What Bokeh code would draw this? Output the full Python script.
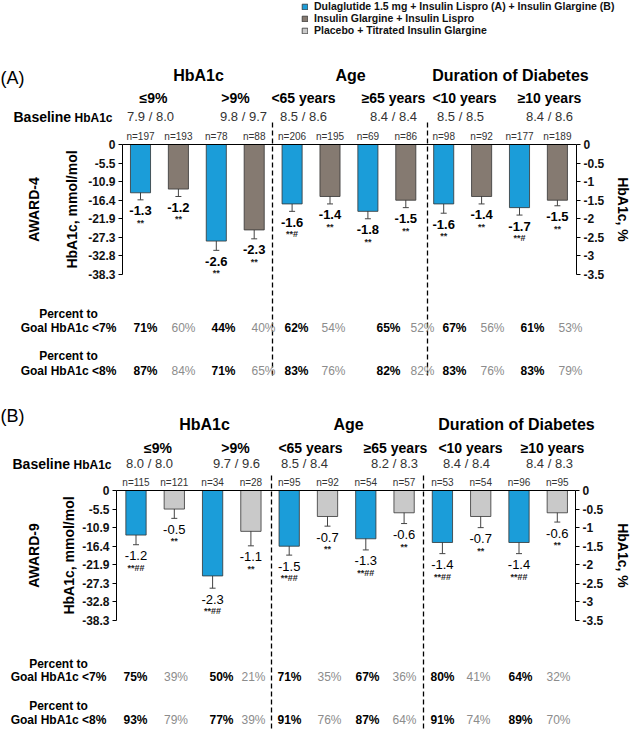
import math
from bokeh.plotting import figure
from bokeh.models import (Range1d, LinearAxis, FixedTicker, ColumnDataSource, Whisker,
                          TeeHead, Legend, LegendItem)
from bokeh.layouts import column
from bokeh.core.properties import value
from bokeh.embed import file_html
from bokeh.resources import INLINE

# ---------------- data ----------------
group_titles = ["HbA1c", "Age", "Duration of Diabetes"]
subgroups = ["≤9%", ">9%", "<65 years", "≥65 years", "<10 years", "≥10 years"]
legend_labels = ["Dulaglutide 1.5 mg + Insulin Lispro (A) + Insulin Glargine (B)",
                 "Insulin Glargine + Insulin Lispro",
                 "Placebo + Titrated Insulin Glargine"]
pct_ticks = [0, -0.5, -1, -1.5, -2, -2.5, -3, -3.5]
pct_tick_labels = ["0", "-0.5", "-1", "-1.5", "-2", "-2.5", "-3", "-3.5"]
mmol_tick_labels = ["0", "-5.5", "-10.9", "-16.4", "-21.9", "-27.3", "-32.8", "-38.3"]

# AWARD-4 (panel A): bars alternate dulaglutide / insulin glargine + lispro
a_change = [-1.3, -1.2, -2.6, -2.3, -1.6, -1.4, -1.8, -1.5, -1.6, -1.4, -1.7, -1.5]
a_se = [0.19, 0.2, 0.25, 0.24, 0.2, 0.2, 0.2, 0.2, 0.25, 0.2, 0.2, 0.15]
a_n = [197, 193, 78, 88, 206, 195, 69, 86, 98, 92, 177, 189]
a_sig = ["**", "**", "**", "**", "**#", "**", "**", "**", "**", "**", "**#", "**"]
a_baseline = ["7.9 / 8.0", "9.8 / 9.7", "8.5 / 8.6", "8.4 / 8.4", "8.5 / 8.5", "8.4 / 8.6"]
a_goal7 = [71, 60, 44, 40, 62, 54, 65, 52, 67, 56, 61, 53]
a_goal8 = [87, 84, 71, 65, 83, 76, 82, 82, 83, 76, 83, 79]

# AWARD-9 (panel B): bars alternate dulaglutide / placebo
b_change = [-1.2, -0.5, -2.3, -1.1, -1.5, -0.7, -1.3, -0.6, -1.4, -0.7, -1.4, -0.6]
b_se = [0.26, 0.25, 0.33, 0.39, 0.24, 0.26, 0.3, 0.29, 0.3, 0.3, 0.3, 0.25]
b_n = [115, 121, 34, 28, 95, 92, 54, 57, 53, 54, 96, 95]
b_sig = ["**##", "**", "**##", "**", "**##", "**", "**##", "**", "**##", "**", "**##", "**"]
b_baseline = ["8.0 / 8.0", "9.7 / 9.6", "8.5 / 8.4", "8.2 / 8.3", "8.4 / 8.4", "8.4 / 8.3"]
b_goal7 = [75, 39, 50, 21, 71, 35, 67, 36, 80, 41, 64, 32]
b_goal8 = [93, 79, 77, 39, 91, 76, 87, 64, 91, 74, 89, 70]

# ---------------- style / layout ----------------
FONT = value("Liberation Sans")
BLUE = "#1b9dd9"
BROWN = "#857a71"
LGRAY = "#c9c9c9"
EDGE = "#333333"
W = 630

LAYOUT_A = dict(tag="(A)", study="AWARD-4", top=0, bottom=392, bar0=140, dx=37.9, zero=144,
                ppu=37.14, axl=122, axr=576, tag_y=77, title_y=75, title_x=[198, 350, 510],
                sub_y=97, sub_x=[153, 235, 303, 393, 464, 549], base_y=116,
                base_x=[150, 243, 303, 393, 460, 549], base_lx=(13, 74),
                dash_x=[272, 427], dash_y=(122, 376), ylab_x=71, study_x=33, ylab_r=622,
                goal_lx=68, goal_rows=[(313, 327), (355, 370)],
                goal_x=[145, 183, 223, 263, 296, 333, 388, 422, 454, 492, 532, 570])
LAYOUT_B = dict(tag="(B)", study="AWARD-9", top=392, bottom=729, bar0=135.5, dx=38.3, zero=490,
                ppu=37.14, axl=116, axr=575, tag_y=415, title_y=424, title_x=[204, 348, 516],
                sub_y=447, sub_x=[157.5, 235, 310, 395, 470, 552], base_y=463,
                base_x=[149, 236, 304, 394, 466, 549], base_lx=(12, 73),
                dash_x=[271, 423], dash_y=(475, 729), ylab_x=68, study_x=33, ylab_r=622,
                goal_lx=58, goal_rows=[(663, 676), (705, 719)],
                goal_x=[135, 175.5, 221, 253, 289, 329, 367, 404, 442, 478, 520, 558])


def txt(p, x, y, text, size, color="black", style="normal", align="center",
        baseline="middle", angle=0.0):
    p.text(x=x, y=y, text=text, x_range_name="px", y_range_name="px",
           text_font=FONT, text_font_size=size, text_color=color, text_font_style=style,
           text_align=align, text_baseline=baseline, angle=angle)


def make_panel(L, change, se, n, sig, baseline, goal7, goal8, comp_color,
               value_style, with_legend=False):
    top, bottom = L["top"], L["bottom"]
    H = bottom - top
    p = figure(width=W, height=H, output_backend="svg", toolbar_location=None,
               x_range=Range1d((0 - L["bar0"]) / L["dx"], (W - L["bar0"]) / L["dx"]),
               y_range=Range1d(-(bottom - L["zero"]) / L["ppu"], (L["zero"] - top) / L["ppu"]),
               x_axis_type=None, y_axis_type=None, min_border=0, outline_line_color=None)
    p.extra_x_ranges = {"px": Range1d(0, W)}
    p.extra_y_ranges = {"px": Range1d(bottom, top)}

    xl = (L["axl"] - L["bar0"]) / L["dx"]
    xr = (L["axr"] - L["bar0"]) / L["dx"]

    idx = list(range(len(change)))
    d_idx, c_idx = idx[0::2], idx[1::2]
    r_d = p.vbar(x=d_idx, width=0.53, top=0, bottom=[change[i] for i in d_idx],
                 fill_color=BLUE, line_color=EDGE, line_width=0.8)
    r_c = p.vbar(x=c_idx, width=0.53, top=0, bottom=[change[i] for i in c_idx],
                 fill_color=comp_color, line_color=EDGE, line_width=0.8)

    lower = [c - s for c, s in zip(change, se)]
    upper = [min(c + s, 0) for c, s in zip(change, se)]
    err_src = ColumnDataSource(dict(x=idx, lower=lower, upper=upper))
    p.add_layout(Whisker(source=err_src, base="x", lower="lower", upper="upper",
                         line_color="#444444", line_width=1,
                         upper_head=TeeHead(size=6, line_color="#444444", line_width=1),
                         lower_head=TeeHead(size=6, line_color="#444444", line_width=1)))

    # value labels and significance markers
    p.text(x=idx, y=lower, text=[f"{v:.1f}" for v in change], y_offset=11,
           text_font=FONT, text_font_size="13px", text_font_style=value_style,
           text_align="center", text_baseline="middle", text_color="black")
    p.text(x=idx, y=lower, text=sig, y_offset=23,
           text_font=FONT, text_font_size="9px", text_font_style="bold",
           text_align="center", text_baseline="middle", text_color="#222222")
    # n labels
    p.text(x=idx, y=[0] * len(idx), text=[f"n={v}" for v in n], y_offset=-3,
           text_font=FONT, text_font_size="10px", text_align="center",
           text_baseline="bottom", text_color="#333333")

    # axes
    def style_axis(ax):
        ax.axis_line_color = "black"
        ax.axis_line_width = 1
        ax.major_tick_line_color = "black"
        ax.major_tick_out = 4
        ax.major_tick_in = 0
        ax.minor_tick_line_color = None
        ax.major_label_text_font = "Liberation Sans"
        ax.major_label_text_font_size = "12px"
        ax.major_label_text_font_style = "bold"
        ax.major_label_text_color = "#111111"
        ax.major_label_standoff = 3

    left = LinearAxis(fixed_location=xl, bounds=(-3.5, 0), ticker=FixedTicker(ticks=pct_ticks),
                      major_label_overrides=dict(zip(pct_ticks, mmol_tick_labels)))
    right = LinearAxis(fixed_location=xr, bounds=(-3.5, 0), ticker=FixedTicker(ticks=pct_ticks),
                       major_label_overrides=dict(zip(pct_ticks, pct_tick_labels)))
    style_axis(left)
    style_axis(right)
    p.add_layout(left, "left")
    p.add_layout(right, "right")
    zero_axis = LinearAxis(fixed_location=0, bounds=(xl, xr), ticker=FixedTicker(ticks=[]),
                           axis_line_color="black", axis_line_width=1,
                           major_label_text_font_size="0px")
    p.add_layout(zero_axis, "below")

    # dashed group separators
    p.segment(x0=L["dash_x"], x1=L["dash_x"], y0=L["dash_y"][0], y1=L["dash_y"][1],
              x_range_name="px", y_range_name="px", line_color="black",
              line_width=1.3, line_dash="5 3")

    # headings
    txt(p, [0], [L["tag_y"]], [L["tag"]], "18px", align="left")
    txt(p, L["title_x"], [L["title_y"]] * 3, group_titles, "16px", style="bold")
    txt(p, L["sub_x"], [L["sub_y"]] * 6, subgroups, "14px", style="bold")
    txt(p, [L["base_lx"][0]], [L["base_y"]], ["Baseline"], "14px", style="bold", align="left")
    txt(p, [L["base_lx"][1]], [L["base_y"] + 1], ["HbA1c"], "12px", style="bold", align="left")
    txt(p, L["base_x"], [L["base_y"]] * 6, baseline, "13px", color="#333333")

    # axis titles
    mid = L["zero"] + 3.5 * L["ppu"] / 2
    txt(p, [L["ylab_x"]], [mid], ["HbA1c, mmol/mol"], "14px", style="bold", angle=math.pi / 2)
    txt(p, [L["study_x"]], [mid], [L["study"]], "14px", style="bold", angle=math.pi / 2)
    txt(p, [L["ylab_r"]], [mid], ["HbA1c, %"], "14px", style="bold", angle=-math.pi / 2)

    # percent-to-goal rows
    for (ry1, ry2), goal, thr in zip(L["goal_rows"], (goal7, goal8), ("<7%", "<8%")):
        txt(p, [L["goal_lx"]], [ry1], ["Percent to"], "12px", style="bold")
        txt(p, [L["goal_lx"]], [ry2], [f"Goal HbA1c {thr}"], "12px", style="bold")
        gx = L["goal_x"]
        txt(p, gx[0::2], [ry2] * 6, [f"{v}%" for v in goal[0::2]], "12px", style="bold")
        txt(p, gx[1::2], [ry2] * 6, [f"{v}%" for v in goal[1::2]], "12px", color="#8c8c8c")

    if with_legend:
        nan = float("nan")
        r_g = p.vbar(x=[nan], width=0.53, top=[nan], bottom=[nan], fill_color=LGRAY,
                     line_color=EDGE, line_width=0.8)
        legend = Legend(items=[LegendItem(label=legend_labels[0], renderers=[r_d]),
                               LegendItem(label=legend_labels[1], renderers=[r_c]),
                               LegendItem(label=legend_labels[2], renderers=[r_g])],
                        location=(301, H - 36), orientation="vertical",
                        glyph_width=7, glyph_height=7, label_height=12, label_width=10,
                        label_standoff=6, spacing=0, padding=0, margin=0,
                        label_text_font="Liberation Sans", label_text_font_size="10.5px",
                        label_text_font_style="bold", label_text_color="#111111",
                        border_line_alpha=0, background_fill_alpha=0)
        p.add_layout(legend)
    return p


pA = make_panel(LAYOUT_A, a_change, a_se, a_n, a_sig, a_baseline, a_goal7, a_goal8,
                BROWN, "bold", with_legend=True)
pB = make_panel(LAYOUT_B, b_change, b_se, b_n, b_sig, b_baseline, b_goal7, b_goal8,
                LGRAY, "normal")

layout = column(pA, pB, spacing=0)
open("out.html", "w").write(file_html(layout, INLINE))
